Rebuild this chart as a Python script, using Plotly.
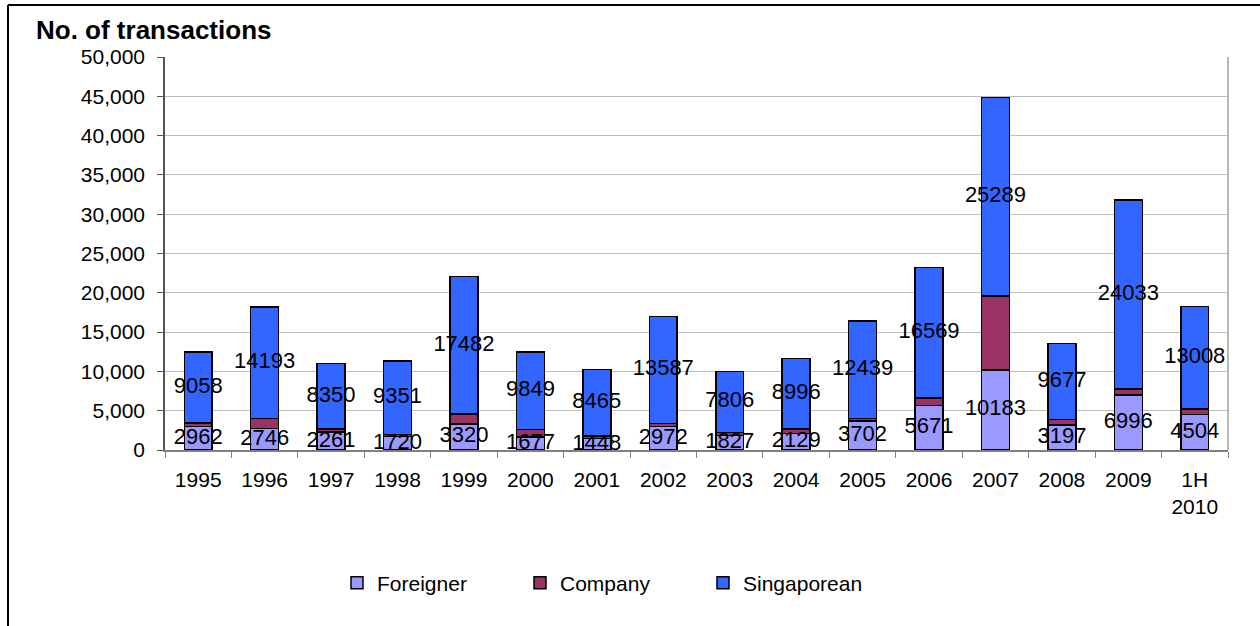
import plotly.graph_objects as go

years = ["1995", "1996", "1997", "1998", "1999", "2000", "2001", "2002",
         "2003", "2004", "2005", "2006", "2007", "2008", "2009", "1H<br>2010"]
foreigner = [2962, 2746, 2261, 1720, 3320, 1677, 1448, 2972,
             1827, 2129, 3702, 5671, 10183, 3197, 6996, 4504]
company = [450, 1250, 420, 260, 1250, 930, 320, 420,
           380, 520, 300, 950, 9400, 680, 750, 720]
singaporean = [9058, 14193, 8350, 9351, 17482, 9849, 8465, 13587,
               7806, 8996, 12439, 16569, 25289, 9677, 24033, 13008]
y_ticks = list(range(0, 50001, 5000))

W, H = 1260, 626
L, R, T, B = 165, 32, 57, 176
pw, ph = W - L - R, H - T - B


def px_x(px):
    return (px - L) / pw


def px_y(py):
    return (H - B - py) / ph


FONT = "Liberation Sans, Arial, sans-serif"
line = dict(color="black", width=1.5)

fig = go.Figure()
fig.add_trace(go.Bar(name="Foreigner", x=years, y=foreigner,
                     marker=dict(color="#9999FF", line=line)))
fig.add_trace(go.Bar(name="Company", x=years, y=company,
                     marker=dict(color="#993366", line=line)))
fig.add_trace(go.Bar(name="Singaporean", x=years, y=singaporean,
                     marker=dict(color="#3366FF", line=line)))

# data labels at the middle of the Foreigner and Singaporean segments
f_mid = [f / 2 for f in foreigner]
s_mid = [f + c + s / 2 for f, c, s in zip(foreigner, company, singaporean)]
fig.add_trace(go.Scatter(x=years, y=f_mid, mode="text",
                         text=[str(v) for v in foreigner],
                         textfont=dict(size=22, color="black", family=FONT),
                         showlegend=False, hoverinfo="skip", cliponaxis=False))
fig.add_trace(go.Scatter(x=years, y=s_mid, mode="text",
                         text=[str(v) for v in singaporean],
                         textfont=dict(size=22, color="black", family=FONT),
                         showlegend=False, hoverinfo="skip", cliponaxis=False))

fig.update_layout(
    width=W, height=H,
    margin=dict(l=L, r=R, t=T, b=B),
    barmode="stack",
    bargap=0.58,
    plot_bgcolor="white",
    paper_bgcolor="white",
    font=dict(family=FONT, size=21, color="black"),
    xaxis=dict(
        type="category",
        range=[-0.5, len(years) - 0.5],
        showgrid=False,
        showline=True, linecolor="#808080", linewidth=1.5,
        ticks="outside", tickson="boundaries", ticklen=6, tickcolor="#808080",
        tickfont=dict(size=21),
        ticklabelstandoff=10,
    ),
    yaxis=dict(
        range=[0, 50000],
        tickvals=y_ticks,
        tickformat=",",
        showgrid=True, gridcolor="#BDBDBD", gridwidth=1,
        showline=True, linecolor="#555555", linewidth=1.5,
        ticks="outside", ticklen=6, tickcolor="#555555",
        tickfont=dict(size=21),
        ticklabelstandoff=8,
        zeroline=False,
    ),
    legend=dict(
        orientation="h",
        x=px_x(337), xanchor="left",
        y=px_y(583), yanchor="middle",
        entrywidth=138, entrywidthmode="pixels",
        font=dict(size=21),
        bgcolor="rgba(0,0,0,0)",
        traceorder="normal",
    ),
    showlegend=True,
    annotations=[
        dict(text="<b>No. of transactions</b>", xref="paper", yref="paper",
             x=px_x(34), y=px_y(30), xanchor="left", yanchor="middle",
             showarrow=False, font=dict(size=26, color="black", family=FONT)),
    ],
    shapes=[
        # right border of plot area
        dict(type="line", xref="paper", yref="paper", x0=1, x1=1, y0=0, y1=1,
             line=dict(color="#A0A0A0", width=1.5)),
        # outer frame (top and left)
        dict(type="line", xref="paper", yref="paper",
             x0=px_x(8), x1=px_x(1265), y0=px_y(5), y1=px_y(5),
             line=dict(color="black", width=2)),
        dict(type="line", xref="paper", yref="paper",
             x0=px_x(8), x1=px_x(8), y0=px_y(5), y1=px_y(630),
             line=dict(color="black", width=2)),
    ],
)

fig.write_html("out.html")
